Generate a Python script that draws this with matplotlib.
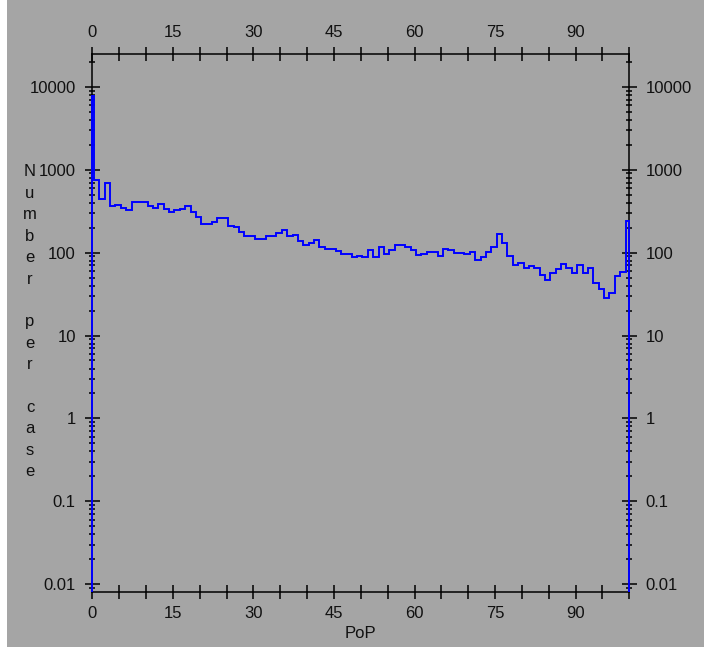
import matplotlib
matplotlib.use("Agg")
import matplotlib.pyplot as plt
import matplotlib.patches as patches
from matplotlib.ticker import MultipleLocator, FixedLocator, NullFormatter, FuncFormatter
import numpy as np

# Histogram of PoP, counts per bin
spike_left = 7670      # narrow bin right at PoP = 0
spike_right = 241      # narrow bin right at PoP = 100
counts = [743, 448, 684, 362, 380, 349, 322, 412, 412, 412,
          365, 349, 383, 333, 309, 322, 333, 362, 309, 272,
          222, 222, 231, 260, 260, 210, 202, 175, 159, 159,
          144, 144, 158, 158, 172, 185, 159, 162, 139, 123,
          129, 143, 116, 112, 112, 105, 97, 97, 88, 92,
          88, 107, 88, 116, 97, 106, 123, 123, 116, 108,
          93, 97, 103, 103, 92, 112, 106, 100, 100, 97,
          103, 81, 88, 102, 116, 166, 129, 92, 71, 74,
          66, 68, 65, 54, 47, 57, 63, 73, 65, 57,
          71, 57, 65, 43, 36, 28, 33, 52, 59]
bin_edges = np.concatenate(([0.0], np.arange(0.3, 99.31, 1.0), [100.0]))

x_label = "PoP"
y_label = "Number per case"
x_range = (0, 100)
y_range = (0.00815, 24600)
y_decades = [0.01, 0.1, 1, 10, 100, 1000, 10000]

W, H = 704, 647
BG = "#a5a5a5"
plt.rcParams['font.family'] = ['Liberation Sans', 'DejaVu Sans']
plt.rcParams['font.size'] = 12


def fx(px):
    """pixel column -> figure fraction"""
    return px / W


def fy(py):
    """pixel row (from top) -> figure fraction"""
    return 1 - py / H


fig = plt.figure(figsize=(W / 100, H / 100), dpi=100, facecolor=BG)
fig.patches.append(patches.Rectangle((0, 0), fx(7), 1, transform=fig.transFigure,
                                     facecolor='white', edgecolor='none', zorder=0))

ax = fig.add_axes([fx(92.3), fy(591.7), fx(629.3) - fx(92.3), fy(54.3) - fy(591.7)])
ax.set_facecolor(BG)
ax.set_yscale('log')

values = [spike_left] + counts + [spike_right]
ax.stairs(values, bin_edges, baseline=y_range[0], color='#0000ff', lw=1.4,
          clip_on=False, zorder=3)

ax.set_xlim(*x_range)
ax.set_ylim(*y_range)

for sp in ax.spines.values():
    sp.set_linewidth(1.1)
    sp.set_color('black')

# x axis: long ticks every 5, labels every 15
ax.xaxis.set_major_locator(MultipleLocator(15))
ax.xaxis.set_minor_locator(MultipleLocator(5))
ax.xaxis.set_minor_formatter(NullFormatter())
ax.tick_params(axis='x', which='both', direction='inout', length=10, width=1.1,
               top=True, bottom=True, labeltop=True, labelbottom=True, pad=5)

# y axis: decades with minor ticks 2..9 (only inside the visible range)
minor_y = [m * d for d in [0.001] + y_decades for m in range(2, 10)
           if y_range[0] <= m * d <= y_range[1]]
ax.yaxis.set_major_locator(FixedLocator(y_decades))
ax.yaxis.set_minor_locator(FixedLocator(minor_y))
ax.yaxis.set_major_formatter(FuncFormatter(lambda v, p: f"{v:g}"))
ax.yaxis.set_minor_formatter(NullFormatter())
ax.tick_params(axis='y', which='major', direction='inout', length=10.8, width=1.1,
               left=True, right=True, labelleft=True, labelright=True, pad=6.5)
ax.tick_params(axis='y', which='minor', direction='inout', length=5, width=1.1,
               left=True, right=True)
ax.tick_params(colors='black', labelcolor='#111111')

# vertical stacked y label, one character per row
for i, ch in enumerate(y_label):
    if ch != ' ':
        fig.text(fx(30), fy(172 + 21.4 * i), ch, ha='center', va='center', color='#111111')

fig.text(fx(360.8), fy(633), x_label, ha='center', va='center', color='#111111')

fig.savefig('out.png', dpi=100, facecolor=fig.get_facecolor())
